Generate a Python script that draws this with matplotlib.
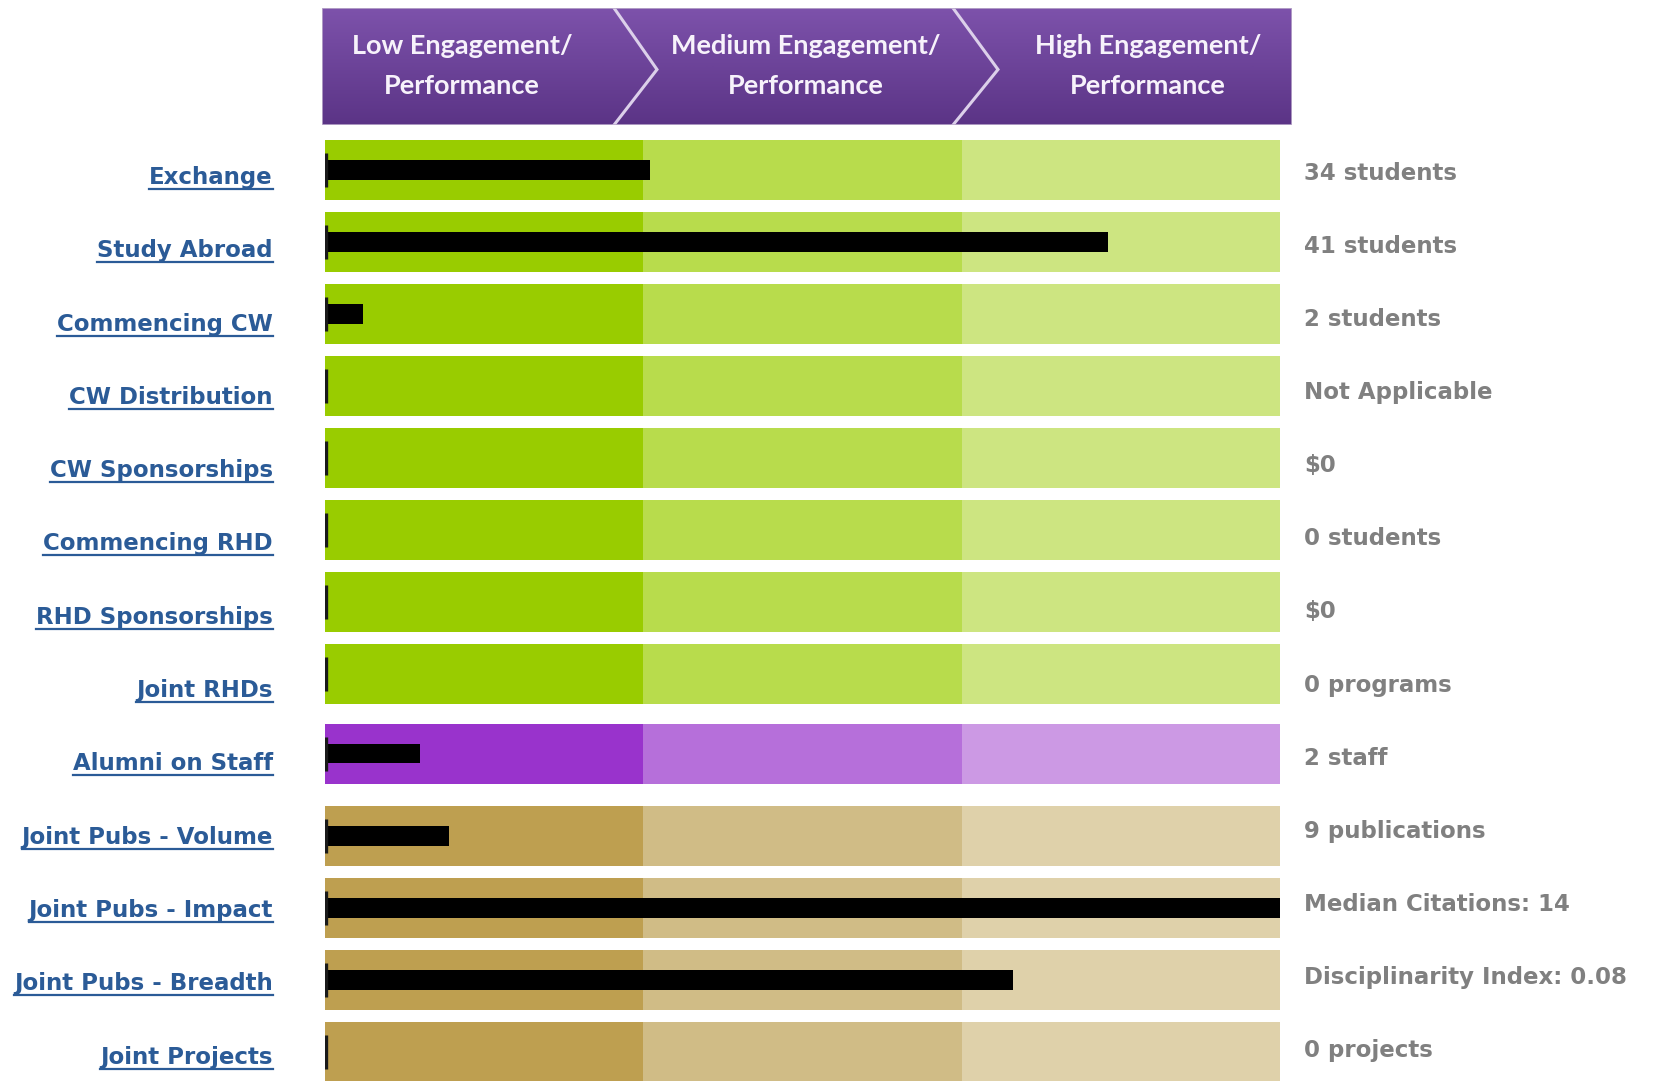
import numpy as np
import matplotlib
matplotlib.use("Agg")
import matplotlib.pyplot as plt
from matplotlib.lines import Line2D
from matplotlib.patches import Rectangle
from matplotlib.transforms import blended_transform_factory, IdentityTransform

# ---- data ----
metrics = [
    "Exchange", "Study Abroad", "Commencing CW", "CW Distribution",
    "CW Sponsorships", "Commencing RHD", "RHD Sponsorships", "Joint RHDs",
    "Alumni on Staff", "Joint Pubs - Volume", "Joint Pubs - Impact",
    "Joint Pubs - Breadth", "Joint Projects",
]
# share of the full low->high scale reached by each measure
scores = [0.34, 0.82, 0.04, 0.0, 0.0, 0.0, 0.0, 0.0, 0.10, 0.13, 1.0, 0.72, 0.0]
value_labels = [
    "34 students", "41 students", "2 students", "Not Applicable", "$0",
    "0 students", "$0", "0 programs", "2 staff", "9 publications",
    "Median Citations: 14", "Disciplinarity Index: 0.08", "0 projects",
]
groups = ["green"] * 8 + ["purple"] + ["brown"] * 4
stages = ["Low Engagement/\nPerformance", "Medium Engagement/\nPerformance",
          "High Engagement/\nPerformance"]

band_colors = {
    "green": ["#99CC00", "#B8DC4C", "#CDE581"],
    "purple": ["#9933CC", "#B66FDA", "#CC99E4"],
    "brown": ["#BE9F50", "#D0BC86", "#DFD1AA"],
}
group_gap = {"green": 0.0, "purple": 0.11, "brown": 0.25}

W, H = 1658, 1081
fig = plt.figure(figsize=(W / 100, H / 100), dpi=100)
fig.patch.set_facecolor("white")

# ---- bullet bars ----
row_pitch = 72.0
label_pitch = 73.3 / row_pitch   # the text columns sit on a slightly looser grid
value_pitch = 73.1 / row_pitch
bar_top_px = 140
ylim_top = -0.417
ylim_bottom = ylim_top + (H - bar_top_px) / row_pitch
ax = fig.add_axes([325 / W, 0, (1280 - 325) / W, 1 - bar_top_px / H])
ax.set_xlim(0, 1)
ax.set_ylim(ylim_bottom, ylim_top)
ax.axis("off")

ypos = [i + group_gap[g] for i, g in enumerate(groups)]
n_bands = len(stages)
for k in range(n_bands):
    ax.barh(ypos, 1 / n_bands, left=k / n_bands, height=0.83,
            color=[band_colors[g][k] for g in groups], linewidth=0)

ax.barh(ypos, scores, height=0.265, color="black", linewidth=0)
ax.vlines([0.0015] * len(ypos), np.array(ypos) - 0.235, np.array(ypos) + 0.235,
          color="#1a1a1a", linewidth=2.4)

# ---- row labels and values ----
lab_tr = blended_transform_factory(fig.transFigure, ax.transData)
renderer = fig.canvas.get_renderer()
for i, (name, val) in enumerate(zip(metrics, value_labels)):
    ty = i * label_pitch + 0.194
    t = ax.text(273 / W, ty, name, transform=lab_tr, ha="right",
                va="baseline", fontsize=16.5, fontweight="bold",
                color="#2B5B97", family="DejaVu Sans")
    bb = t.get_window_extent(renderer)
    under_y = lab_tr.transform((0, ty))[1] - 5
    fig.add_artist(Line2D([bb.x0, bb.x1], [under_y, under_y],
                          transform=IdentityTransform(), color="#2B5B97",
                          linewidth=1.6))
    ax.text(1304 / W, i * value_pitch + 0.137, val, transform=lab_tr,
            ha="left", va="baseline", fontsize=16.5, fontweight="bold",
            color="#808080", family="DejaVu Sans")

# ---- header with chevrons ----
hx0, hx1, hy0, hy1 = 322, 1292, 8, 125
hax = fig.add_axes([hx0 / W, 1 - hy1 / H, (hx1 - hx0) / W, (hy1 - hy0) / H])
hax.set_xlim(hx0, hx1)
hax.set_ylim(hy1, hy0)
hax.axis("off")

top_c = np.array(matplotlib.colors.to_rgb("#7D52AB"))
bot_c = np.array(matplotlib.colors.to_rgb("#5B3486"))
grad = np.linspace(0, 1, 200)[:, None]
img = top_c[None, None, :] * (1 - grad[..., None]) + bot_c[None, None, :] * grad[..., None]
img = np.repeat(img, 2, axis=1)
hax.imshow(img, extent=[hx0, hx1, hy1, hy0], aspect="auto", zorder=1)
hax.add_patch(Rectangle((hx0, hy0), hx1 - hx0, hy1 - hy0, fill=False,
                        edgecolor="#BBAACB", linewidth=1.2, zorder=3))

chevrons = [(614, 657), (953, 998)]
for base, tip in chevrons:
    hax.plot([base, tip, base], [hy0, (hy0 + hy1) / 2 + 3, hy1],
             color="#DCD0EA", linewidth=2.2, zorder=2, solid_joinstyle="miter")

stage_centers = [462, 806, 1148]
for cx, label in zip(stage_centers, stages):
    hax.text(cx, 66, label, ha="center", va="center", fontsize=19.5,
             fontweight="bold", color="#F7F2FB", family="Lato",
             linespacing=1.8, zorder=4)

fig.savefig("out.png", dpi=100, facecolor="white")
